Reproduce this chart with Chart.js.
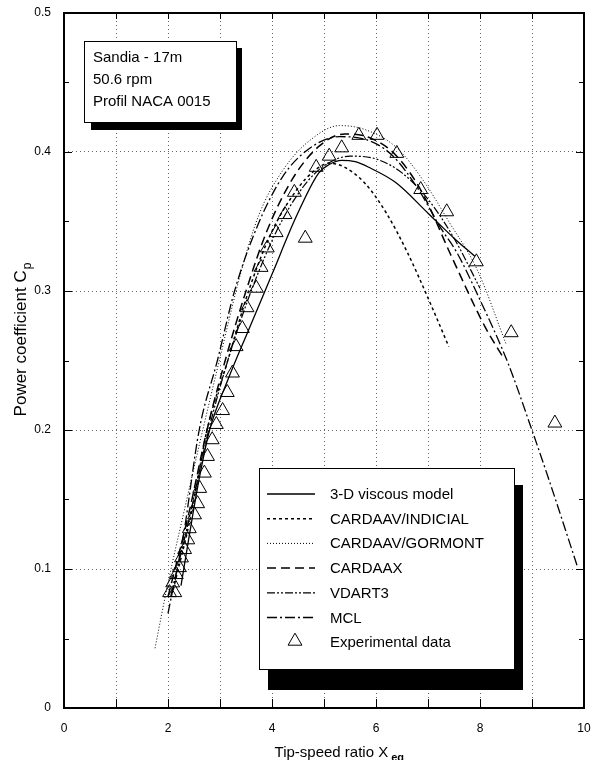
<!DOCTYPE html>
<html>
<head>
<meta charset="utf-8">
<script src="https://cdn.jsdelivr.net/npm/chart.js@4.4.1/dist/chart.umd.min.js"></script>
<style>
html, body { margin: 0; padding: 0; background: #fff; }
</style>
</head>
<body>
<canvas id="myChart" width="593" height="760"></canvas>
<script>
// data (tip-speed ratio / power coefficient)

const viscousX = [2.25, 2.40, 2.60, 2.80, 3.15, 3.55, 4.00, 4.46, 4.90, 5.10, 5.34, 5.60, 5.86, 6.38, 7.00, 7.50, 7.90];
const viscousCp = [0.088, 0.122, 0.165, 0.200, 0.236, 0.272, 0.312, 0.353, 0.385, 0.391, 0.394, 0.393, 0.389, 0.378, 0.356, 0.338, 0.325];

const indicialX = [2.10, 2.45, 2.75, 3.15, 3.55, 4.00, 4.50, 4.80, 5.10, 5.40, 5.80, 6.20, 6.60, 7.00, 7.40];
const indicialCp = [0.085, 0.140, 0.200, 0.250, 0.300, 0.343, 0.374, 0.386, 0.392, 0.389, 0.377, 0.356, 0.328, 0.295, 0.260];

const gormontX = [1.75, 2.00, 2.30, 2.65, 3.00, 3.40, 3.75, 4.25, 4.75, 5.30, 5.80, 6.40, 6.90, 7.40, 7.95, 8.50];
const gormontCp = [0.043, 0.090, 0.140, 0.197, 0.252, 0.313, 0.355, 0.389, 0.409, 0.419, 0.416, 0.403, 0.380, 0.350, 0.315, 0.262];

const cardaaxX = [2.00, 2.40, 2.75, 3.10, 3.50, 3.90, 4.40, 4.90, 5.40, 5.90, 6.40, 6.90, 7.45, 8.10, 8.45];
const cardaaxCp = [0.080, 0.140, 0.200, 0.250, 0.300, 0.343, 0.381, 0.404, 0.413, 0.410, 0.397, 0.370, 0.325, 0.274, 0.252];

const vdartX = [2.05, 2.40, 2.75, 3.15, 3.60, 4.10, 4.60, 5.00, 5.50, 6.00, 6.50, 7.00, 7.50, 8.00];
const vdartCp = [0.080, 0.135, 0.195, 0.250, 0.300, 0.344, 0.375, 0.390, 0.397, 0.395, 0.385, 0.366, 0.338, 0.302];

const mclX = [2.00, 2.30, 2.60, 2.95, 3.28, 3.70, 4.20, 4.70, 5.30, 5.80, 6.30, 6.80, 7.25, 7.55, 7.97, 8.54, 8.98, 9.31, 9.88];
const mclCp = [0.068, 0.125, 0.200, 0.250, 0.300, 0.345, 0.382, 0.402, 0.411, 0.409, 0.398, 0.374, 0.345, 0.328, 0.296, 0.248, 0.202, 0.166, 0.101];

const expX = [2.03, 2.09, 2.13, 2.16, 2.22, 2.26, 2.32, 2.38, 2.41, 2.51, 2.57, 2.61, 2.70, 2.76, 2.85, 2.93, 3.05, 3.14, 3.24, 3.31,
              3.43, 3.52, 3.70, 3.79, 3.91, 4.08, 4.25, 4.43, 4.64, 4.85, 5.10, 5.34, 5.67, 6.02, 6.40, 6.86, 7.36, 7.93, 8.60, 9.44];
const expCp = [0.083, 0.090, 0.083, 0.096, 0.101, 0.108, 0.114, 0.121, 0.129, 0.139, 0.147, 0.158, 0.169, 0.181, 0.193, 0.204, 0.214, 0.227, 0.241, 0.260,
               0.273, 0.288, 0.302, 0.317, 0.331, 0.342, 0.355, 0.371, 0.338, 0.389, 0.397, 0.403, 0.412, 0.412, 0.399, 0.373, 0.357, 0.321, 0.270, 0.205];

const xTicks = [0, 2, 4, 6, 8, 10];
const yTicks = [0, 0.1, 0.2, 0.3, 0.4, 0.5];

const infoLines = ["Sandia - 17m", "50.6 rpm", "Profil NACA 0015"];

const FONT = "'Liberation Sans', Arial, Helvetica, sans-serif";

function pts(xs, ys) {
    return xs.map((x, i) => ({ x: x, y: ys[i] }));
}

function curve(label, xs, ys, dash, width) {
    return {
        label: label,
        data: pts(xs, ys),
        showLine: true,
        borderColor: '#000',
        borderWidth: width,
        borderDash: dash,
        pointRadius: 0,
        cubicInterpolationMode: 'monotone',
        fill: false
    };
}

const datasets = [
    curve('3-D viscous model', viscousX, viscousCp, [], 1.3),
    curve('CARDAAV/INDICIAL', indicialX, indicialCp, [3, 3], 1.5),
    curve('CARDAAV/GORMONT', gormontX, gormontCp, [1, 2], 1),
    curve('CARDAAX', cardaaxX, cardaaxCp, [9, 5], 1.5),
    curve('VDART3', vdartX, vdartCp, [8, 2, 2, 2, 2, 2], 1.2),
    curve('MCL', mclX, mclCp, [10, 3, 2, 3], 1.3),
    {
        label: 'Experimental data',
        data: pts(expX, expCp),
        showLine: false,
        pointStyle: 'triangle',
        pointRadius: 8,
        borderColor: '#000',
        backgroundColor: 'rgba(0,0,0,0)',
        borderWidth: 1
    }
];

// boxes, legend, frame and axis titles
const paper = {
    id: 'paper',
    afterDatasetsDraw(chart) {
        const ctx = chart.ctx;
        ctx.save();

        // info box
        ctx.fillStyle = '#000';
        ctx.fillRect(91, 48, 151, 82);
        ctx.fillStyle = '#fff';
        ctx.fillRect(84, 41, 152, 81);
        ctx.strokeStyle = '#000';
        ctx.lineWidth = 1;
        ctx.strokeRect(84.5, 41.5, 152, 81);
        ctx.fillStyle = '#000';
        ctx.font = '15px ' + FONT;
        ctx.textAlign = 'left';
        ctx.textBaseline = 'alphabetic';
        infoLines.forEach((t, i) => ctx.fillText(t, 93, 62 + i * 22));

        // legend box
        ctx.fillStyle = '#000';
        ctx.fillRect(268, 485, 255, 205);
        ctx.fillStyle = '#fff';
        ctx.fillRect(259, 468, 255, 201);
        ctx.strokeRect(259.5, 468.5, 255, 201);

        chart.data.datasets.forEach((ds, i) => {
            const base = 499 + i * 24.7;
            const my = base - 5;
            ctx.strokeStyle = '#000';
            if (ds.showLine) {
                ctx.lineWidth = ds.borderWidth;
                ctx.setLineDash(ds.borderDash);
                ctx.beginPath();
                ctx.moveTo(267, my);
                ctx.lineTo(315, my);
                ctx.stroke();
                ctx.setLineDash([]);
            } else {
                ctx.lineWidth = 1;
                ctx.fillStyle = '#fff';
                Chart.helpers.drawPoint(ctx, { pointStyle: 'triangle', radius: 8, borderWidth: 1, rotation: 0 }, 295, my - 1);
            }
            ctx.fillStyle = '#000';
            ctx.fillText(ds.label, 330, base);
        });
        ctx.restore();
    },
    afterDraw(chart) {
        const ctx = chart.ctx;
        const a = chart.chartArea;
        const sx = chart.scales.x, sy = chart.scales.y;
        ctx.save();
        ctx.strokeStyle = '#000';

        // inner ticks
        ctx.lineWidth = 1;
        for (let k = 0; k <= 10; k++) {
            const py = Math.round(sy.getPixelForValue(k * 0.05)) + 0.5;
            const len = k % 2 === 0 ? 8 : 5;
            ctx.beginPath();
            ctx.moveTo(a.left, py); ctx.lineTo(a.left + len, py);
            ctx.moveTo(a.right, py); ctx.lineTo(a.right - len, py);
            ctx.stroke();
        }
        for (let v = 0; v <= 10; v++) {
            const px = Math.round(sx.getPixelForValue(v)) + 0.5;
            ctx.beginPath();
            ctx.moveTo(px, a.bottom); ctx.lineTo(px, a.bottom - 9);
            ctx.moveTo(px, a.top); ctx.lineTo(px, a.top + 6);
            ctx.stroke();
        }

        // frame
        ctx.lineWidth = 2;
        ctx.strokeRect(a.left, a.top, a.right - a.left, a.bottom - a.top);

        // x title with subscript
        ctx.fillStyle = '#000';
        ctx.textBaseline = 'alphabetic';
        ctx.textAlign = 'left';
        ctx.font = '15px ' + FONT;
        const xMain = 'Tip-speed ratio X';
        const wMain = ctx.measureText(xMain).width;
        ctx.font = '11px ' + FONT;
        const wSub = ctx.measureText(' eq').width;
        const x0 = (a.left + a.right) / 2 - (wMain + wSub) / 2 + 15;
        ctx.font = '15px ' + FONT;
        ctx.fillText(xMain, x0, 757);
        ctx.font = 'bold 11px ' + FONT;
        ctx.fillText(' eq', x0 + wMain, 761);

        // y title with subscript
        ctx.translate(26, 340);
        ctx.rotate(-Math.PI / 2);
        ctx.font = '17px ' + FONT;
        const yMain = 'Power coefficient C';
        const wy = ctx.measureText(yMain).width;
        ctx.font = '12px ' + FONT;
        const wyS = ctx.measureText('p').width;
        const y0 = -(wy + wyS) / 2;
        ctx.font = '17px ' + FONT;
        ctx.fillText(yMain, y0, 0);
        ctx.font = '12px ' + FONT;
        ctx.fillText('p', y0 + wy + 1, 5);
        ctx.restore();
    }
};

const ctx = document.getElementById('myChart').getContext('2d');
const myChart = new Chart(ctx, {
    type: 'scatter',
    data: { datasets: datasets },
    options: {
        responsive: false,
        animation: false,
        devicePixelRatio: 1,
        layout: { padding: { top: 13, right: 6, left: 0, bottom: 0 } },
        plugins: {
            legend: { display: false },
            tooltip: { enabled: false }
        },
        scales: {
            x: {
                type: 'linear',
                min: 0,
                max: 10,
                afterFit: function (s) {
                    s.height = 52;
                    s.paddingLeft = 0;
                    s.paddingRight = 0;
                },
                ticks: {
                    stepSize: 1,
                    autoSkip: false,
                    maxRotation: 0,
                    padding: 13,
                    color: '#000',
                    font: { family: FONT, size: 12 },
                    callback: v => (xTicks.includes(v) ? String(v) : '')
                },
                grid: { color: '#666', lineWidth: 1, drawTicks: false },
                border: { display: false, dash: [1, 3] }
            },
            y: {
                min: 0,
                max: 0.5,
                afterFit: function (s) {
                    s.width = 64;
                    s.paddingTop = 0;
                    s.paddingBottom = 0;
                },
                afterBuildTicks: function (s) { s.ticks = yTicks.map(v => ({ value: v })); },
                ticks: {
                    padding: 13,
                    color: '#000',
                    font: { family: FONT, size: 12 },
                    callback: v => (v === 0 ? '0' : v.toFixed(1))
                },
                grid: { color: '#666', lineWidth: 1, drawTicks: false },
                border: { display: false, dash: [1, 3] }
            }
        }
    },
    plugins: [paper]
});
</script>
</body>
</html>
